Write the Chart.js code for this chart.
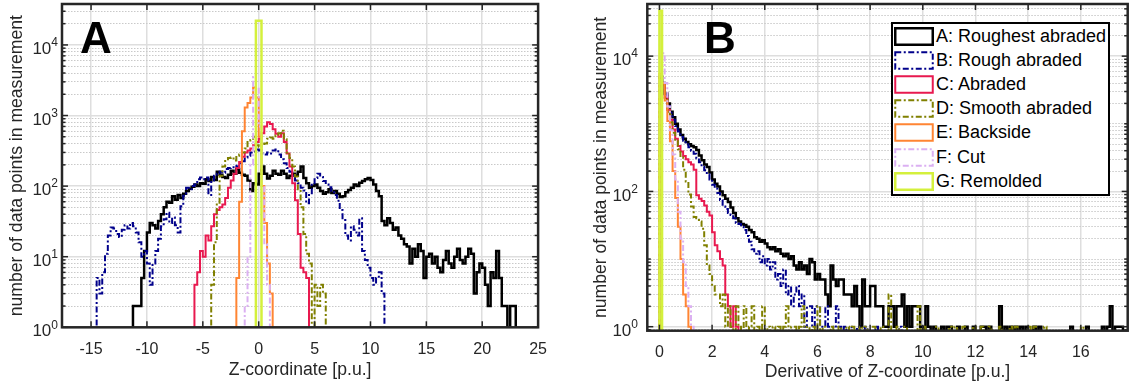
<!DOCTYPE html>
<html>
<head>
<meta charset="utf-8">
<title>Histograms of Z-coordinate and its derivative</title>
<script src="https://cdn.jsdelivr.net/npm/chart.js@4.4.1/dist/chart.umd.min.js"></script>
<style>
  html, body { margin: 0; padding: 0; background: #fff; }
  body { width: 1129px; height: 387px; position: relative; overflow: hidden; font-family: "Liberation Sans", Arial, sans-serif; }
  canvas { position: absolute; top: 0; }
  #chartA { left: 0; }
  #chartB { left: 560px; }
  .panelTag { position: absolute; top: 16px; font: bold 44px "Liberation Sans", Arial, sans-serif; line-height: 44px; color: #000; }
  #legendB { position: absolute; left: 891px; top: 22px; width: 219px; height: 174px; box-sizing: border-box; border: 2px solid #000; background: #fff; }
  .legRow { height: 24.2px; display: flex; align-items: center; font-size: 18px; color: #000; white-space: nowrap; }
  .legRow svg { margin: 0 2px 0 1px; flex: none; }
</style>
</head>
<body>
<canvas id="chartA" width="560" height="387"></canvas>
<canvas id="chartB" width="569" height="387"></canvas>
<div class="panelTag" style="left:80px">A</div>
<div class="panelTag" style="left:704px">B</div>
<div id="legendB"></div>
<script>
// legend names, same order as the series below
const seriesNames = ['A: Roughest abraded', 'B: Rough abraded', 'C: Abraded', 'D: Smooth abraded',
                     'E: Backside', 'F: Cut', 'G: Remolded'];

// ---- panel A: counts per Z-coordinate bin (bin width 0.25) ----
const zBin = 0.25;
const zStarts = [-11.25, -14.5, -5.75, -4.25, -2.0, -1.25, -0.25];
const zRoughest = [2, 2, 2, 5, 12, 22, 30, 28, 25, 32,
  40, 50, 60, 58, 72, 64, 75, 68, 78, 85,
  92, 98, 105, 100, 110, 108, 125, 118, 135, 122,
  160, 145, 135, 130, 145, 165, 150, 175, 155, 145,
  140, 120, 85, 110, 105, 150, 190, 150, 128, 140,
  165, 150, 145, 165, 150, 130, 140, 150, 140, 160,
  190, 130, 110, 95, 100, 105, 95, 85, 78, 82,
  90, 80, 85, 78, 70, 72, 82, 88, 95, 105,
  100, 112, 118, 125, 130, 122, 105, 85, 72, 32,
  28, 35, 30, 24, 26, 20, 18, 15, 14, 8,
  13, 10, 15, 12, 5, 10, 11, 8, 10, 7,
  6, 9, 12, 8, 7, 10, 13, 9, 8, 10,
  13, 11, 3, 6, 8, 7, 4, 2, 6, 5,
  12, 5, 2, 2, 0, 2, 2];
const zRough = [5, 3, 6, 11, 20, 26, 25, 21, 19, 24,
  28, 25, 30, 27, 22, 16, 10, 12, 8, 4,
  8, 12, 18, 27, 34, 42, 30, 36, 28, 22,
  52, 73, 95, 90, 100, 105, 125, 132, 125, 132,
  75, 120, 140, 150, 160, 155, 175, 180, 185, 195,
  190, 210, 225, 255, 270, 300, 310, 330, 320, 290,
  280, 300, 290, 320, 330, 280, 240, 210, 180, 160,
  140, 120, 110, 95, 87, 57, 79, 110, 130, 150,
  135, 118, 105, 96, 85, 75, 62, 46, 33, 20,
  17, 27, 24, 20, 35, 12, 9, 7, 5, 4,
  5, 6, 3];
const zAbraded = [4, 6, 12, 10, 20, 17, 27, 40, 46, 50, 55, 68, 95, 120, 150, 180, 220, 260, 300, 320,
  340, 380, 420, 470, 560, 700, 800, 760, 640, 550, 500, 560, 420, 290, 190, 110, 63, 21, 7, 6, 5];
const zSmooth = [4, 16, 58, 140, 190, 240, 250, 255, 230, 270, 280, 300, 340, 420, 450, 500, 380, 360, 380, 400,
  470, 490, 470, 520, 560, 610, 460, 300, 250, 190, 137, 90, 50, 21, 11, 8, 0, 4, 2, 4, 3];
const zBackside = [5, 60, 600, 1300, 1500, 1800, 2500, 1800, 500, 100, 30, 8, 3];
const zCut = [2, 10, 200, 3500, 2500, 700, 100, 15, 4];
const zRemolded = [22000, 22000];

// ---- panel B: counts per derivative bin (bin width 0.1, from 0) ----
const dBin = 0.1;
const dRoughest = [5000, 4000, 2800, 2000, 1500, 1250, 1000, 820, 680, 600,
  540, 500, 470, 450, 410, 340, 290, 250, 230, 190,
  150, 130, 118, 100, 88, 78, 70, 58, 48, 40,
  36, 33, 32, 30, 27, 25, 21, 20, 18, 19,
  17, 15, 14, 15, 13, 14, 12, 11, 12, 10,
  11, 8, 7, 9, 7, 8, 6, 10, 9, 5,
  6, 5, 5, 3, 2, 8, 5, 4, 5, 5,
  3, 3, 3, 2, 4, 2, 1, 5, 2, 2,
  4, 4, 2, 2, 2, 1, 1, 2, 2, 1,
  2, 2, 3, 1, 2, 1, 2, 2, 2, 1,
  0, 2, 1, 0, 1, 0, 0, 1, 0, 1,
  1, 0, 0, 1, 0, 0, 1, 0, 0, 1,
  0, 0, 1, 1, 0, 1, 0, 0, 0, 2,
  0, 1, 0, 1, 0, 1, 0, 1, 0, 1,
  0, 0, 1, 0, 1, 0, 0, 0, 0, 0,
  0, 0, 0, 0, 0, 0, 1, 0, 0, 0,
  0, 0, 1, 0, 0, 0, 0, 0, 1, 0,
  1, 2, 0, 1, 1, 1];
const dRough = [5000, 3900, 2700, 1900, 1450, 1150, 930, 770, 640, 560,
  500, 450, 400, 360, 310, 270, 230, 205, 180, 150,
  125, 110, 95, 75, 60, 55, 48, 45, 40, 34,
  33, 30, 27, 22, 18, 14, 12, 13, 9, 11,
  8, 10, 7, 9, 5, 6, 4, 7, 3, 4,
  2, 3, 4, 2, 3, 1, 2, 2, 1, 2,
  2, 1, 1, 2, 1, 1, 0, 2, 1, 0,
  1, 0, 1, 0, 0, 1, 0, 0, 1, 0,
  0, 0, 1, 0, 0, 0, 0, 0, 0, 0,
  0, 1, 0];
const dAbraded = [5000, 3800, 2500, 1600, 1150, 820, 600, 470, 390, 335,
  300, 270, 250, 210, 88, 78, 72, 62, 50, 44,
  25, 16, 13, 10, 8, 3, 2, 1, 2, 1];
const dSmooth = [5000, 3700, 2400, 1500, 1050, 740, 560, 420, 320, 210,
  140, 90, 60, 42, 40, 36, 28, 16, 8, 6,
  4, 3, 3, 2, 3, 1, 2, 1, 0, 2,
  1, 0, 2, 0, 1, 2, 0, 1, 0, 2,
  0, 1, 0, 1, 0, 1, 0, 1, 2, 0,
  1, 1, 0, 1, 2, 0, 1, 0, 1, 0,
  2, 0, 1, 0, 0, 1, 0, 0, 1, 0,
  0, 1, 0, 1, 0, 0, 1, 0, 1, 0,
  0, 1, 0, 0, 1, 0, 0, 3, 0, 0,
  1, 0, 0, 1, 0, 0, 0, 0, 2, 0,
  1, 0, 0, 0, 0, 1, 0, 0, 0, 0,
  1, 0, 1, 0, 0, 1, 0, 0, 0, 1,
  0, 0, 1, 0, 0, 1, 0, 0, 0, 1,
  0, 0, 0, 1, 0, 1, 0, 0, 0, 0,
  1, 0, 1, 0, 0, 0, 1, 0, 0, 0,
  0, 0, 0, 0, 0, 0, 0, 0, 0, 0,
  1, 0];
const dBackside = [5500, 4000, 2200, 1100, 550, 200, 80, 30, 10, 3, 2, 1];
const dCut = [10000, 11000, 4000, 1800, 800, 350, 150, 50, 20, 9, 4, 2, 1];
const dRemolded = [47000];

// ---- axes ----
const zTicks = [-15, -10, -5, 0, 5, 10, 15, 20, 25];
const dTicks = [0, 2, 4, 6, 8, 10, 12, 14, 16];
const zLogTicks = [1, 10, 100, 1000, 10000];
const zLogExps = ['0', '1', '2', '3', '4'];     // labels 10^0 ... 10^4
const dLogTicks = [1, 100, 10000];
const dLogExps = ['0', '2', '4'];               // labels 10^0, 10^2, 10^4

const styles = [
  { color: '#000000', width: 2.5, dash: [] },
  { color: '#00008b', width: 2, dash: [6, 2.5, 2, 2.5] },
  { color: '#e8194f', width: 2, dash: [] },
  { color: '#808000', width: 2, dash: [6, 2.5, 2, 2.5] },
  { color: '#ff8533', width: 2, dash: [] },
  { color: '#dbb0f2', width: 2, dash: [6, 2.5, 2, 2.5] },
  { color: '#d4f03c', width: 2.5, dash: [] }
];

const FONT = '"Liberation Sans", Arial, sans-serif';
Chart.defaults.font.family = FONT;
Chart.defaults.color = '#262626';

// empty bins sit below the log axis and get clipped, like a stairs plot
const EMPTY = 0.01;
function steps(start, width, counts) {
  const pts = [{ x: start, y: EMPTY }];
  counts.forEach((n, i) => pts.push({ x: start + i * width, y: n > 0 ? n : EMPTY }));
  pts.push({ x: start + counts.length * width, y: EMPTY });
  return pts;
}

// box around the axes, inward tick marks and 10^n labels
const framePlugin = {
  id: 'frame',
  afterDraw(chart, args, opts) {
    const { ctx, chartArea: a, scales } = chart;
    const seg = (x1, y1, x2, y2) => { ctx.beginPath(); ctx.moveTo(x1, y1); ctx.lineTo(x2, y2); ctx.stroke(); };
    ctx.save();
    ctx.strokeStyle = '#262626';
    ctx.lineWidth = 1.5;
    scales.x.ticks.forEach(t => {
      const px = scales.x.getPixelForValue(t.value);
      seg(px, a.bottom, px, a.bottom - 6);
      seg(px, a.top, px, a.top + 6);
    });
    [[scales.y, 6], [scales.ym, 3.5]].forEach(([s, len]) => {
      s.ticks.forEach(t => {
        const py = s.getPixelForValue(t.value);
        seg(a.left, py, a.left + len, py);
        seg(a.right, py, a.right - len, py);
      });
    });
    ctx.lineWidth = 2.5;
    ctx.strokeRect(a.left, a.top, a.right - a.left, a.bottom - a.top);

    ctx.fillStyle = '#262626';
    ctx.textBaseline = 'middle';
    ctx.textAlign = 'right';
    scales.y.ticks.forEach((t, i) => {
      const py = scales.y.getPixelForValue(t.value);
      const xr = a.left - opts.pad;
      ctx.font = '12px ' + FONT;
      const ew = ctx.measureText(opts.exps[i]).width;
      ctx.fillText(opts.exps[i], xr, py - 2);
      ctx.font = '17px ' + FONT;
      ctx.fillText('10', xr - ew, py + 4.5);
    });
    ctx.restore();
  }
};

function makeChart(id, p) {
  const minor = [];
  for (let k = Math.floor(Math.log10(p.yMin)); k <= Math.ceil(Math.log10(p.yMax)); k++) {
    for (let m = 1; m <= 9; m++) {
      const v = m * Math.pow(10, k);
      if (v >= p.yMin && v <= p.yMax && !p.yTicks.includes(v)) minor.push(v);
    }
  }
  const datasets = p.series.map((counts, i) => ({
    label: seriesNames[i],
    data: steps(p.starts[i], p.bin, counts),
    borderColor: styles[i].color,
    borderWidth: styles[i].width,
    borderDash: styles[i].dash,
    stepped: true,
    pointRadius: 0,
    fill: false,
    order: p.series.length - i
  }));
  return new Chart(document.getElementById(id), {
    type: 'line',
    data: { datasets },
    options: {
      responsive: false,
      animation: false,
      devicePixelRatio: 1,
      events: [],
      layout: { padding: p.pad },
      plugins: {
        legend: { display: false },
        tooltip: { enabled: false },
        frame: { exps: p.yExps, pad: p.yTickPad }
      },
      scales: {
        x: {
          type: 'linear', min: p.xMin, max: p.xMax,
          afterBuildTicks: s => { s.ticks = p.xTicks.map(v => ({ value: v })); },
          afterFit: s => { s.height = p.xHeight; },
          ticks: { font: { size: 16 }, padding: p.xTickPad, maxRotation: 0, autoSkip: false, callback: v => String(v) },
          grid: { color: '#dedede', lineWidth: 1.5, drawTicks: false },
          border: { display: false },
          title: { display: true, text: p.xTitle, font: { size: 17.6 }, color: '#262626', padding: { top: 0, bottom: p.xTitlePad } }
        },
        y: {
          type: 'logarithmic', position: 'left', min: p.yMin, max: p.yMax,
          afterBuildTicks: s => { s.ticks = p.yTicks.map(v => ({ value: v })); },
          afterFit: s => { s.width = p.yWidth; },
          ticks: { display: false },
          grid: { color: '#dedede', lineWidth: 1.5, drawTicks: false },
          border: { display: false },
          title: { display: true, text: 'number of data points in measurement', font: { size: 17.6 }, color: '#262626', padding: { top: p.yTitlePad, bottom: 0 } }
        },
        ym: {
          type: 'logarithmic', position: 'right', min: p.yMin, max: p.yMax,
          afterBuildTicks: s => { s.ticks = minor.map(v => ({ value: v })); },
          afterFit: s => { s.width = 0; },
          ticks: { display: false },
          grid: { color: '#c9c9c9', lineWidth: 1, drawTicks: false },
          border: { display: false, dash: [1.5, 1.5] }
        }
      }
    },
    plugins: [framePlugin]
  });
}

makeChart('chartA', {
  series: [zRoughest, zRough, zAbraded, zSmooth, zBackside, zCut, zRemolded],
  starts: zStarts, bin: zBin,
  xMin: -17.6, xMax: 25, yMin: 1, yMax: 38000,
  xTicks: zTicks, yTicks: zLogTicks, yExps: zLogExps,
  xTitle: 'Z-coordinate [p.u.]',
  pad: { left: 0, right: 13.3, top: 4, bottom: 0 },
  xHeight: 59.7, yWidth: 62, yTickPad: 4, yTitlePad: 6.4, xTitlePad: 6.4, xTickPad: 13
});

makeChart('chartB', {
  series: [dRoughest, dRough, dAbraded, dSmooth, dBackside, dCut, dRemolded],
  starts: [0, 0, 0, 0, 0, 0, 0], bin: dBin,
  xMin: -0.46, xMax: 17.78, yMin: 0.873, yMax: 59000,
  xTicks: dTicks, yTicks: dLogTicks, yExps: dLogExps,
  xTitle: 'Derivative of Z-coordinate [p.u.]',
  pad: { left: 0, right: 1.3, top: 4, bottom: 0 },
  xHeight: 56.3, yWidth: 87.3, yTickPad: 9.3, yTitlePad: 30.4, xTitlePad: 4.4, xTickPad: 12
});

// legend box of panel B
const legend = document.getElementById('legendB');
seriesNames.forEach((name, i) => {
  const st = styles[i];
  const row = document.createElement('div');
  row.className = 'legRow';
  row.innerHTML = '<svg width="40" height="19"><rect x="1.25" y="1.25" width="37.5" height="16.5" fill="none" stroke="' +
    st.color + '" stroke-width="' + st.width + '" stroke-dasharray="' + (st.dash.join(' ') || 'none') + '"/></svg>' +
    '<span>' + name + '</span>';
  legend.appendChild(row);
});
</script>
</body>
</html>
